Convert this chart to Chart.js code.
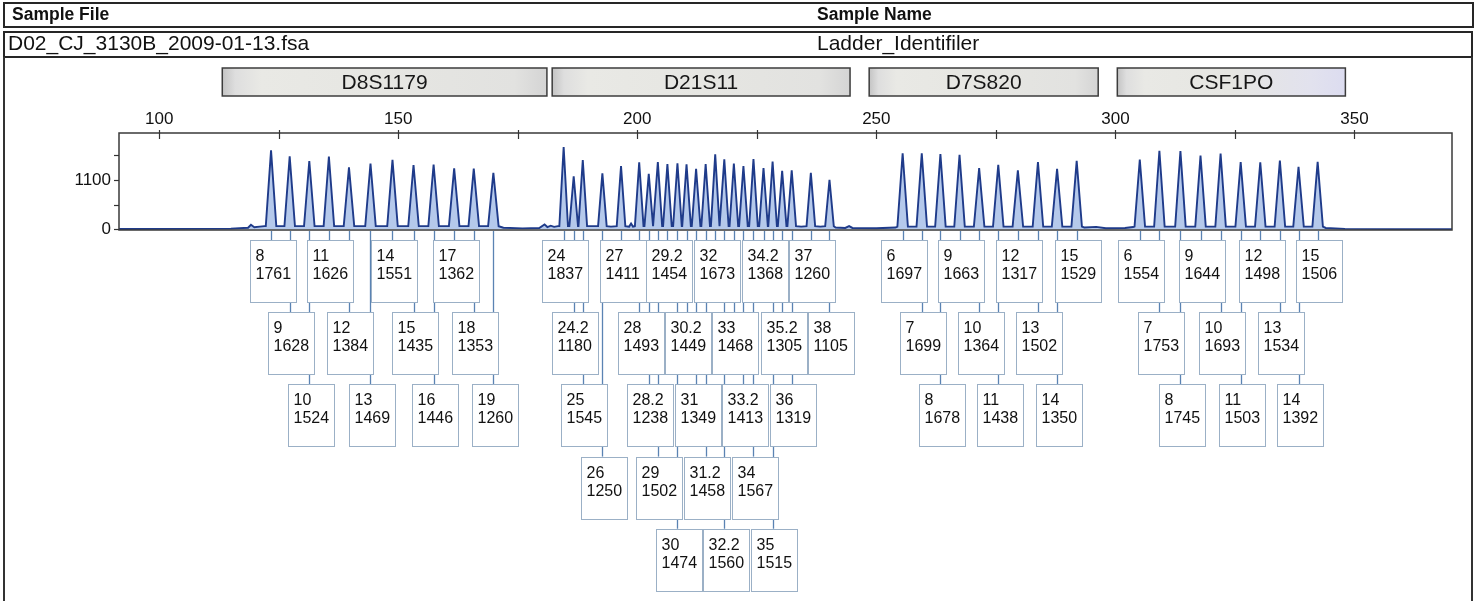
<!DOCTYPE html>
<html><head><meta charset="utf-8">
<script src="https://cdn.jsdelivr.net/npm/chart.js@4.4.0/dist/chart.umd.min.js"></script>
<style>
html,body{margin:0;padding:0;background:#fff;}
#wrap{position:relative;width:1480px;height:601px;overflow:hidden;font-family:"Liberation Sans",Arial,sans-serif;}
#c{position:absolute;left:0;top:0;}
.row{position:absolute;box-sizing:border-box;border:2px solid #262626;}
.t{position:absolute;white-space:nowrap;color:#111;font-family:"Liberation Sans",Arial,sans-serif;}
.vl{position:absolute;background:#333;}
</style></head><body>
<div id="wrap">
<canvas id="c" width="1480" height="601"></canvas>
<div class="row" style="left:3px;top:2px;width:1471px;height:26px;"></div>
<div class="row" style="left:3px;top:31px;width:1470px;height:27px;"></div>
<div class="vl" style="left:3px;top:57px;width:2px;height:544px;"></div>
<div class="vl" style="left:1471px;top:57px;width:2px;height:544px;"></div>
<span class="t" style="left:12px;top:6px;font-weight:bold;font-size:17.5px;line-height:17.5px;">Sample File</span>
<span class="t" style="left:817px;top:6px;font-weight:bold;font-size:17.5px;line-height:17.5px;">Sample Name</span>
<span class="t" style="left:8px;top:32px;font-size:21px;line-height:21px;">D02_CJ_3130B_2009-01-13.fsa</span>
<span class="t" style="left:817px;top:32px;font-size:21px;line-height:21px;">Ladder_Identifiler</span>
</div>
<script>
// ---- axis ticks ----
const xTickValues = [100,125,150,175,200,225,250,275,300,325,350];
const xTickLabels = ['100','','150','','200','','250','','300','','350'];
const yTickValues = [0,550,1100,1650];
const yTickLabels = ['0','','1100',''];

// ---- loci (bin bars, bp) ----
const locusNames = ['D8S1179','D21S11','D7S820','CSF1PO'];
const locusStart = [113.2,182.2,248.5,300.4];
const locusEnd   = [181.1,244.5,296.4,348.1];

// ---- D8S1179 ----
const d8Alleles = ['8','9','10','11','12','13','14','15','16','17','18','19'];
const d8Sizes   = [123.4,127.3,131.4,135.5,139.7,144.2,148.8,153.2,157.4,161.7,165.8,169.9];
const d8Heights = [1761,1628,1524,1626,1384,1469,1551,1435,1446,1362,1353,1260];
const d8Rows    = [0,1,2,0,1,2,0,1,2,0,1,2];

// ---- D21S11 ----
const d21Alleles = ['24','24.2','25','26','27','28','28.2','29','29.2','30','30.2','31','31.2','32','32.2','33','33.2','34','34.2','35','35.2','36','37','38'];
const d21Sizes   = [184.6,186.7,188.6,192.7,196.6,200.4,202.4,204.3,206.3,208.4,210.3,212.3,214.3,216.3,218.2,220.2,222.2,224.3,226.4,228.3,230.3,232.3,236.3,240.2];
const d21Heights = [1837,1180,1545,1250,1411,1493,1238,1502,1454,1474,1449,1349,1458,1673,1560,1468,1413,1567,1368,1515,1305,1319,1260,1105];
const d21Rows    = [0,1,2,3,0,1,2,3,0,4,1,2,3,0,4,1,2,3,0,4,1,2,0,1];

// ---- D7S820 ----
const d7Alleles = ['6','7','8','9','10','11','12','13','14','15'];
const d7Sizes   = [255.5,259.5,263.4,267.4,271.5,275.5,279.6,283.8,287.8,291.9];
const d7Heights = [1697,1699,1678,1663,1364,1438,1317,1502,1350,1529];
const d7Rows    = [0,1,2,0,1,2,0,1,2,0];

// ---- CSF1PO ----
const csfAlleles = ['6','7','8','9','10','11','12','13','14','15'];
const csfSizes   = [305.1,309.2,313.6,317.8,322.0,326.2,330.3,334.4,338.3,342.3];
const csfHeights = [1554,1753,1745,1644,1693,1503,1498,1534,1392,1506];
const csfRows    = [0,1,2,0,1,2,0,1,2,0];

// trough level between peaks inside each locus (RFU)
const locusTrough = [70,70,60,60];

// baseline / noise points [bp, RFU]
const baselinePoints = [
  [91.6,8],[105,10],[115,15],[118.6,35],[119.2,100],[119.9,45],[121,60],[122,70],
  [172,35],[176,20],[179.5,30],[180.6,110],[181.2,50],[181.9,80],[182.6,55],[183.4,70],
  [194.5,60],[198.3,60],[198.7,130],[199.1,60],[234.3,60],[238.3,60],
  [241.5,40],[243.5,30],[244.3,70],[245,30],[250,25],[254,40],
  [293.5,40],[296,55],[298,25],[302,30],[303.7,50],
  [344,30],[348,10],[360,5],[370.4,5]
];

// peak base half-width per locus in bp (drawing style)
const peakHalf = [1.1,0.9,1.1,1.1];

const loci = [
  {alleles:d8Alleles,  sizes:d8Sizes,  heights:d8Heights,  rows:d8Rows,  trough:locusTrough[0], half:peakHalf[0]},
  {alleles:d21Alleles, sizes:d21Sizes, heights:d21Heights, rows:d21Rows, trough:locusTrough[1], half:peakHalf[1]},
  {alleles:d7Alleles,  sizes:d7Sizes,  heights:d7Heights,  rows:d7Rows,  trough:locusTrough[2], half:peakHalf[2]},
  {alleles:csfAlleles, sizes:csfSizes, heights:csfHeights, rows:csfRows, trough:locusTrough[3], half:peakHalf[3]}
];

const trace = baselinePoints.map(p => ({x:p[0], y:p[1]}));
loci.forEach(L => L.sizes.forEach((s,i) => {
  trace.push({x:s-L.half, y:L.trough}, {x:s, y:L.heights[i]}, {x:s+L.half, y:L.trough});
}));
trace.sort((a,b) => a.x - b.x);

const FONT = "'Liberation Sans', Arial, sans-serif";

const decor = {
  id:'decor',
  afterDraw(chart){
    const {ctx, chartArea:a, scales:{x,y}} = chart;
    ctx.save();
    // plot frame
    ctx.strokeStyle = '#3a3a3a'; ctx.lineWidth = 1.5;
    ctx.strokeRect(a.left, a.top, a.right-a.left, a.bottom-a.top);
    // tick marks
    ctx.lineWidth = 1.2; ctx.strokeStyle = '#333';
    xTickValues.forEach(v => { const px = Math.round(x.getPixelForValue(v))+0.5;
      ctx.beginPath(); ctx.moveTo(px, a.top-3); ctx.lineTo(px, a.top+6); ctx.stroke(); });
    yTickValues.forEach(v => { const py = Math.round(y.getPixelForValue(v))+0.5;
      ctx.beginPath(); ctx.moveTo(a.left-5, py); ctx.lineTo(a.left, py); ctx.stroke(); });

    // locus bars
    locusNames.forEach((name,i) => {
      const x0 = x.getPixelForValue(locusStart[i]), x1 = x.getPixelForValue(locusEnd[i]);
      const top = 68, h = 28;
      const g = ctx.createLinearGradient(x0,0,x1,0);
      g.addColorStop(0,'#c4c4c4'); g.addColorStop(0.04,'#dedede'); g.addColorStop(0.12,'#e9e9e5');
      g.addColorStop(0.5,'#e6e6e2');
      if (name === 'CSF1PO') { g.addColorStop(0.85,'#e2e2ee'); g.addColorStop(1,'#dcdcf0'); }
      else { g.addColorStop(0.9,'#e2e2e0'); g.addColorStop(1,'#d4d4d4'); }
      ctx.fillStyle = g; ctx.fillRect(x0, top, x1-x0, h);
      ctx.strokeStyle = '#3c3c3c'; ctx.lineWidth = 1.5;
      ctx.strokeRect(x0, top, x1-x0, h);
      ctx.fillStyle = '#161616'; ctx.font = `21px ${FONT}`;
      ctx.textAlign = 'center'; ctx.textBaseline = 'middle';
      ctx.fillText(name, (x0+x1)/2, top+h/2+1);
    });

    // allele call labels
    const boxW = 46, boxH = 62, rowTop = 240, rowStep = 72.2;
    const items = [];
    loci.forEach(L => L.sizes.forEach((s,i) => items.push({
      px: x.getPixelForValue(s), row: L.rows[i], allele: L.alleles[i], h: L.heights[i]})));
    // connector lines
    ctx.strokeStyle = '#5a83b3'; ctx.lineWidth = 1.3;
    items.forEach(it => {
      const top = rowTop + it.row*rowStep;
      const lx = Math.round(it.px)+0.5;
      ctx.beginPath(); ctx.moveTo(lx, a.bottom+1); ctx.lineTo(lx, top); ctx.stroke();
    });
    // boxes
    ctx.font = `16px ${FONT}`; ctx.textAlign = 'left'; ctx.textBaseline = 'middle';
    items.forEach(it => {
      const top = Math.round(rowTop + it.row*rowStep)+0.5;
      const left = Math.round(it.px + 1.5 - boxW/2)+0.5;
      ctx.fillStyle = '#ffffff'; ctx.fillRect(left, top, boxW, boxH);
      ctx.strokeStyle = '#9bb0c6'; ctx.lineWidth = 1;
      ctx.strokeRect(left, top, boxW, boxH);
      ctx.fillStyle = '#111';
      ctx.fillText(it.allele, left+5, top+16);
      ctx.fillText(String(it.h), left+5, top+34);
    });
    ctx.restore();
  }
};

new Chart(document.getElementById('c'), {
  type:'line',
  data:{datasets:[{
    data: trace,
    borderColor:'#1f3b8a', borderWidth:1.9, tension:0,
    pointRadius:0, fill:'origin', backgroundColor:'rgba(70,120,205,0.4)'
  }]},
  options:{
    responsive:false, animation:false, devicePixelRatio:1,
    layout:{padding:{left:0, top:73, right:28, bottom:371}},
    plugins:{legend:{display:false}, tooltip:{enabled:false}},
    scales:{
      x:{type:'linear', position:'top', min:91.6, max:370.4,
        afterBuildTicks: s => { s.ticks = xTickValues.map(v => ({value:v})); },
        afterFit: s => { s.height = 60; },
        ticks:{callback:(v,i) => xTickLabels[i], autoSkip:false, maxRotation:0, minRotation:0,
          font:{family:FONT, size:17}, color:'#111', padding:3},
        grid:{display:false, drawTicks:false}, border:{display:false}},
      y:{type:'linear', min:-15.6, max:2150,
        afterBuildTicks: s => { s.ticks = yTickValues.map(v => ({value:v})); },
        afterFit: s => { s.width = 119; },
        ticks:{callback:(v,i) => yTickLabels[i], autoSkip:false,
          font:{family:FONT, size:17}, color:'#111', padding:8},
        grid:{display:false, drawTicks:false}, border:{display:false}}
    }
  },
  plugins:[decor]
});
</script>
</body></html>
